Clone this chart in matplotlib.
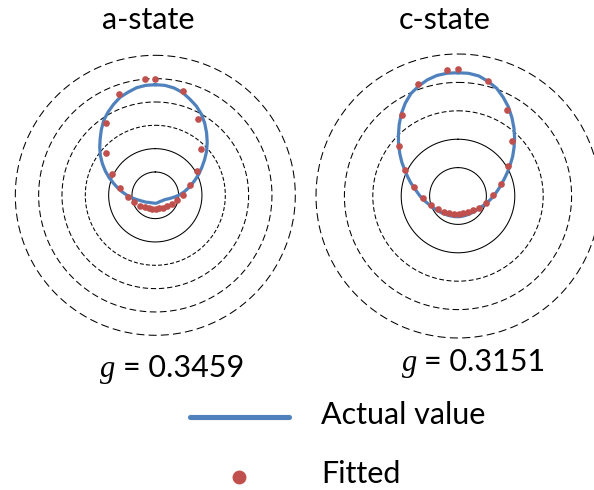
import numpy as np
import matplotlib
matplotlib.use("Agg")
import matplotlib.pyplot as plt
from matplotlib.lines import Line2D

# ---- data -------------------------------------------------------------
# Scattering angle (degrees) of each sample; the radar layout spreads
# 73 categories (0..360 deg in 5 deg steps) evenly around the circle.
actual_angles = list(range(0, 361, 5))
fitted_angles = list(range(0, 361, 15))

a_actual = [0.237, 0.2365, 0.2335, 0.228, 0.219, 0.2105, 0.200, 0.187,   # 0-35
            0.173, 0.159, 0.145, 0.130, 0.116, 0.1035, 0.091, 0.080,      # 40-75
            0.070, 0.061, 0.052, 0.0435, 0.036, 0.0305, 0.026, 0.023,     # 80-115
            0.021, 0.0198, 0.019, 0.018, 0.017, 0.0167, 0.0165, 0.0165,   # 120-155
            0.0165, 0.0166, 0.0168, 0.017, 0.017, 0.017, 0.017, 0.0171,   # 160-195
            0.0172, 0.0176, 0.018, 0.0187, 0.0194, 0.0205, 0.022, 0.024,  # 200-235
            0.026, 0.0283, 0.031, 0.035, 0.040, 0.0465, 0.054, 0.0625,    # 240-275
            0.072, 0.082, 0.093, 0.106, 0.119, 0.132, 0.145, 0.157,       # 280-315
            0.169, 0.182, 0.195, 0.205, 0.2145, 0.2232, 0.2285, 0.234,    # 320-355
            0.2365]                                                       # 360
a_fitted = [0.250, 0.231, 0.187, 0.140, 0.103, 0.077, 0.059, 0.047, 0.040,
            0.034, 0.031, 0.029, 0.029, 0.029, 0.031, 0.034, 0.040, 0.047,
            0.059, 0.077, 0.103, 0.140, 0.187, 0.231, 0.250]

c_actual = [0.217, 0.2168, 0.2145, 0.2085, 0.2015, 0.191, 0.180, 0.1675,  # 0-35
            0.155, 0.1425, 0.130, 0.1185, 0.107, 0.097, 0.088, 0.0805,    # 40-75
            0.074, 0.0685, 0.0635, 0.0595, 0.0555, 0.052, 0.049, 0.046,   # 80-115
            0.0437, 0.042, 0.0408, 0.0397, 0.0388, 0.038, 0.0374, 0.037,  # 120-155
            0.0367, 0.0365, 0.0364, 0.0364, 0.0364, 0.0365, 0.0366,       # 160-190
            0.0368, 0.037, 0.0375, 0.0382, 0.0388, 0.0395, 0.0407, 0.042, # 195-230
            0.0435, 0.045, 0.047, 0.049, 0.052, 0.055, 0.059, 0.0635,     # 235-270
            0.068, 0.073, 0.0795, 0.087, 0.095, 0.104, 0.115, 0.126,      # 275-310
            0.138, 0.150, 0.163, 0.176, 0.188, 0.1985, 0.2055, 0.2115,    # 315-350
            0.2155, 0.217]                                                # 355-360
c_fitted = [0.223, 0.209, 0.174, 0.136, 0.103, 0.079, 0.062, 0.051, 0.043,
            0.037, 0.034, 0.032, 0.0315, 0.032, 0.034, 0.037, 0.043, 0.051,
            0.062, 0.079, 0.103, 0.136, 0.174, 0.209, 0.223]

titles = ["a-state", "c-state"]
g_values = ["0.3459", "0.3151"]
ring_values = [[0.05, 0.10, 0.15, 0.20, 0.25, 0.30],
               [0.05, 0.10, 0.15, 0.20, 0.25]]
solid_rings = 2
legend_labels = ["Actual value", "Fitted"]

N_CATEGORIES = 73
CATEGORY_STEP = 5.0

BLUE = "#4F81BD"
RED = "#C0504D"
SANS = ["Lato", "DejaVu Sans"]

W, H = 594, 490
fig = plt.figure(figsize=(W / 100, H / 100), dpi=100)


def fx(px):
    return px / W


def fy(py):
    return 1 - py / H


def to_theta(angles):
    idx = np.asarray(angles, dtype=float) / CATEGORY_STEP
    return 2 * np.pi * idx / N_CATEGORIES


panels = [
    dict(center=(155.3, 195.3), radius=140, actual=a_actual, fitted=a_fitted,
         rings=ring_values[0]),
    dict(center=(458.0, 196.0), radius=142, actual=c_actual, fitted=c_fitted,
         rings=ring_values[1]),
]

ring_lw = 0.75
circle_t = np.linspace(0, 2 * np.pi, 721)
for p in panels:
    cx, cy = p["center"]
    R = p["radius"]
    ax = fig.add_axes([fx(cx - R), fy(cy + R), 2 * R / W, 2 * R / H],
                      projection="polar")
    ax.set_theta_zero_location("N")
    ax.set_theta_direction(-1)
    rmax = p["rings"][-1]
    ax.set_rlim(0, rmax)
    ax.grid(False)
    ax.set_xticks([])
    ax.set_yticks([])
    ax.spines["polar"].set_visible(False)
    ax.patch.set_alpha(0)

    for i, rv in enumerate(p["rings"]):
        r_px = R * rv / rmax
        if i < solid_rings:
            ls = "-"
        else:
            on = 0.057 * r_px * 0.72 / ring_lw
            off = 0.030 * r_px * 0.72 / ring_lw
            ls = (0, (on, off))
        ax.plot(circle_t, np.full_like(circle_t, rv), color="black",
                lw=ring_lw, ls=ls, clip_on=False)

    # radar series close back onto their first category
    th = np.append(to_theta(actual_angles), 2 * np.pi)
    rv_line = np.append(p["actual"], p["actual"][0])
    ax.plot(th, rv_line, color=BLUE, lw=2.3, solid_joinstyle="round",
            zorder=3, clip_on=False)
    ax.plot(to_theta(fitted_angles), p["fitted"], "o", color=RED, ms=4.8,
            mec="none", zorder=4, clip_on=False)

# panel titles
fig.text(fx(148.3), fy(29.3), titles[0], ha="center", va="baseline",
         family=SANS, fontsize=22)
fig.text(fx(444.5), fy(29.3), titles[1], ha="center", va="baseline",
         family=SANS, fontsize=22)

# asymmetry parameter labels
for gx, ex, base, val in [(100, 123, 376.7, g_values[0]),
                          (401.7, 424.5, 371.0, g_values[1])]:
    fig.text(fx(gx), fy(base), "g", ha="left", va="baseline",
             family=["Liberation Serif"], style="italic", fontsize=22)
    fig.text(fx(ex), fy(base), "= " + val, ha="left", va="baseline",
             family=SANS, fontsize=22)

# legend
fig.add_artist(Line2D([fx(190), fx(289)], [fy(416.7), fy(416.7)],
                      transform=fig.transFigure, color=BLUE, lw=3.7,
                      solid_capstyle="round"))
fig.add_artist(Line2D([fx(239.3)], [fy(476.7)], transform=fig.transFigure,
                      marker="o", ms=10, color=RED, mec="none", ls="none"))
fig.text(fx(321), fy(424.3), legend_labels[0], ha="left", va="baseline",
         family=SANS, fontsize=22)
fig.text(fx(321), fy(483.3), legend_labels[1], ha="left", va="baseline",
         family=SANS, fontsize=22)

fig.savefig("out.png", dpi=100)
